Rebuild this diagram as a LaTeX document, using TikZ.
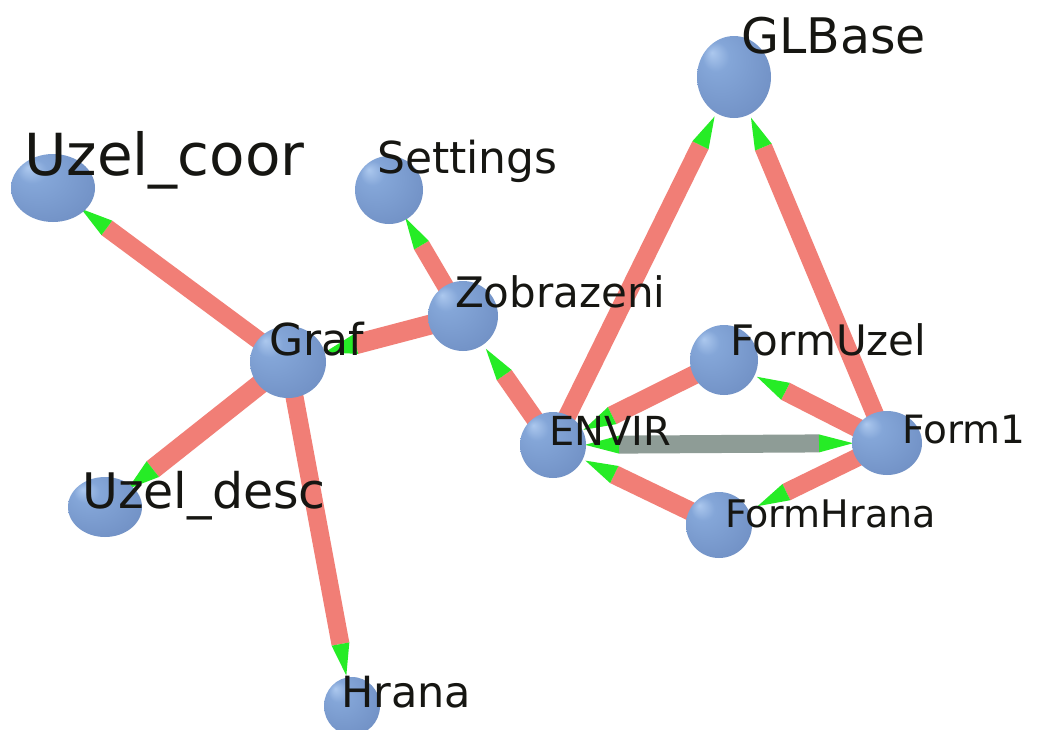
\documentclass[tikz,border=0pt]{standalone}
\usepackage{fontspec}
\setmainfont{DejaVu Sans}
\usetikzlibrary{calc}

\definecolor{linkred}{RGB}{241,126,118}
\definecolor{linkgray}{RGB}{142,156,150}
\definecolor{tipgreen}{RGB}{38,236,38}
\definecolor{labelink}{RGB}{22,22,18}
\definecolor{sphHi}{RGB}{172,200,238}
\definecolor{sphMid}{RGB}{132,166,216}
\definecolor{sphLo}{RGB}{116,148,200}
\definecolor{sphEdge}{RGB}{100,128,178}

\pgfdeclareradialshading{sphere}{\pgfpoint{-15bp}{15bp}}{%
  color(0bp)=(sphHi); color(9bp)=(sphMid); color(30bp)=(sphLo); color(50bp)=(sphEdge)}

\tikzset{
  ball/.style={shading=sphere},
  lbl/.style={anchor=base west, inner sep=0pt, text=labelink},
}

% directed link: from #1 to #2, tip stops #3 pt before the centre of #2,
% line width #4 pt, line colour #5
\newcommand\dirlink[5]{%
  \coordinate (tip) at ($(#2)!#3pt!(#1)$);
  \coordinate (base) at ($(#2)!{#3pt+32pt}!(#1)$);
  \draw[draw=#5, line width=#4pt] (#1) -- (base);
  \fill[tipgreen] (tip) -- ($(base)!{#4pt/2}!90:(tip)$) -- ($(base)!{#4pt/2}!-90:(tip)$) -- cycle;
}
% link with tips at both ends
\newcommand\bilink[6]{%
  \coordinate (tipa) at ($(#1)!#3pt!(#2)$);
  \coordinate (basea) at ($(#1)!{#3pt+34pt}!(#2)$);
  \coordinate (tipb) at ($(#2)!#4pt!(#1)$);
  \coordinate (baseb) at ($(#2)!{#4pt+34pt}!(#1)$);
  \draw[draw=#6, line width=#5pt] (basea) -- (baseb);
  \fill[tipgreen] (tipa) -- ($(basea)!{#5pt/2}!90:(tipa)$) -- ($(basea)!{#5pt/2}!-90:(tipa)$) -- cycle;
  \fill[tipgreen] (tipb) -- ($(baseb)!{#5pt/2}!90:(tipb)$) -- ($(baseb)!{#5pt/2}!-90:(tipb)$) -- cycle;
}

\begin{document}
\begin{tikzpicture}[x=1pt, y=-1pt]
\useasboundingbox (0,0) rectangle (1039,729);
\fill[white] (0,0) rectangle (1039,729);

% sphere centres
\coordinate (uzelcoor)  at (53,188);
\coordinate (settings)  at (389,190);
\coordinate (graf)      at (288,362);
\coordinate (zobrazeni) at (463,316);
\coordinate (uzeldesc)  at (105,507);
\coordinate (hrana)     at (352,706);
\coordinate (glbase)    at (734,77);
\coordinate (formuzel)  at (724,360);
\coordinate (envir)     at (553,445);
\coordinate (form1)     at (887,443);
\coordinate (formhrana) at (719,525);

% links
\dirlink{graf}{uzelcoor}{35}{18}{linkred}
\dirlink{graf}{uzeldesc}{29}{20}{linkred}
\dirlink{graf}{hrana}{31}{18}{linkred}
\dirlink{zobrazeni}{graf}{38}{20}{linkred}
\dirlink{zobrazeni}{settings}{32}{17}{linkred}
\dirlink{envir}{zobrazeni}{40}{18}{linkred}
\dirlink{envir}{glbase}{44}{18}{linkred}
\dirlink{form1}{glbase}{44}{18}{linkred}
\dirlink{form1}{formuzel}{37}{19}{linkred}
\dirlink{formuzel}{envir}{34}{19}{linkred}
\dirlink{form1}{formhrana}{43}{18}{linkred}
\dirlink{formhrana}{envir}{36}{19}{linkred}
\bilink{envir}{form1}{32}{34}{18}{linkgray}

% spheres
\shade[ball] (uzelcoor)  ellipse [x radius=42pt, y radius=34pt];
\shade[ball] (settings)  ellipse [x radius=34pt, y radius=34pt];
\shade[ball] (graf)      ellipse [x radius=38pt, y radius=36pt];
\shade[ball] (zobrazeni) ellipse [x radius=35pt, y radius=35pt];
\shade[ball] (uzeldesc)  ellipse [x radius=37pt, y radius=30pt];
\shade[ball] (hrana)     ellipse [x radius=28pt, y radius=29pt];
\shade[ball] (glbase)    ellipse [x radius=37pt, y radius=41pt];
\shade[ball] (formuzel)  ellipse [x radius=34pt, y radius=35pt];
\shade[ball] (envir)     ellipse [x radius=33pt, y radius=33pt];
\shade[ball] (form1)     ellipse [x radius=35pt, y radius=32pt];
\shade[ball] (formhrana) ellipse [x radius=33pt, y radius=33pt];

% labels
\node[lbl, font=\fontsize{58}{60}\selectfont] (tuzelcoor)  at (24,175)  {Uzel\_coor};
\node[lbl, font=\fontsize{44}{46}\selectfont] (tsettings)  at (377,173) {Settings};
\node[lbl, font=\fontsize{44}{46}\selectfont] (tgraf)      at (269,355) {Graf};
\node[lbl, font=\fontsize{42}{44}\selectfont] (tzobrazeni) at (455,307) {Zobrazeni};
\node[lbl, font=\fontsize{49}{51}\selectfont] (tuzeldesc)  at (82,508)  {Uzel\_desc};
\node[lbl, font=\fontsize{43}{45}\selectfont] (thrana)     at (341,707) {Hrana};
\node[lbl, font=\fontsize{49}{51}\selectfont] (tglbase)    at (741,53)  {GLBase};
\node[lbl, font=\fontsize{42}{44}\selectfont] (tformuzel)  at (730,355) {FormUzel};
\node[lbl, font=\fontsize{40}{42}\selectfont] (tenvir)     at (549,445) {ENVIR};
\node[lbl, font=\fontsize{39}{41}\selectfont] (tform1)     at (902,443) {Form1};
\node[lbl, font=\fontsize{38}{40}\selectfont] (tformhrana) at (725,527) {FormHrana};
\end{tikzpicture}
\end{document}
